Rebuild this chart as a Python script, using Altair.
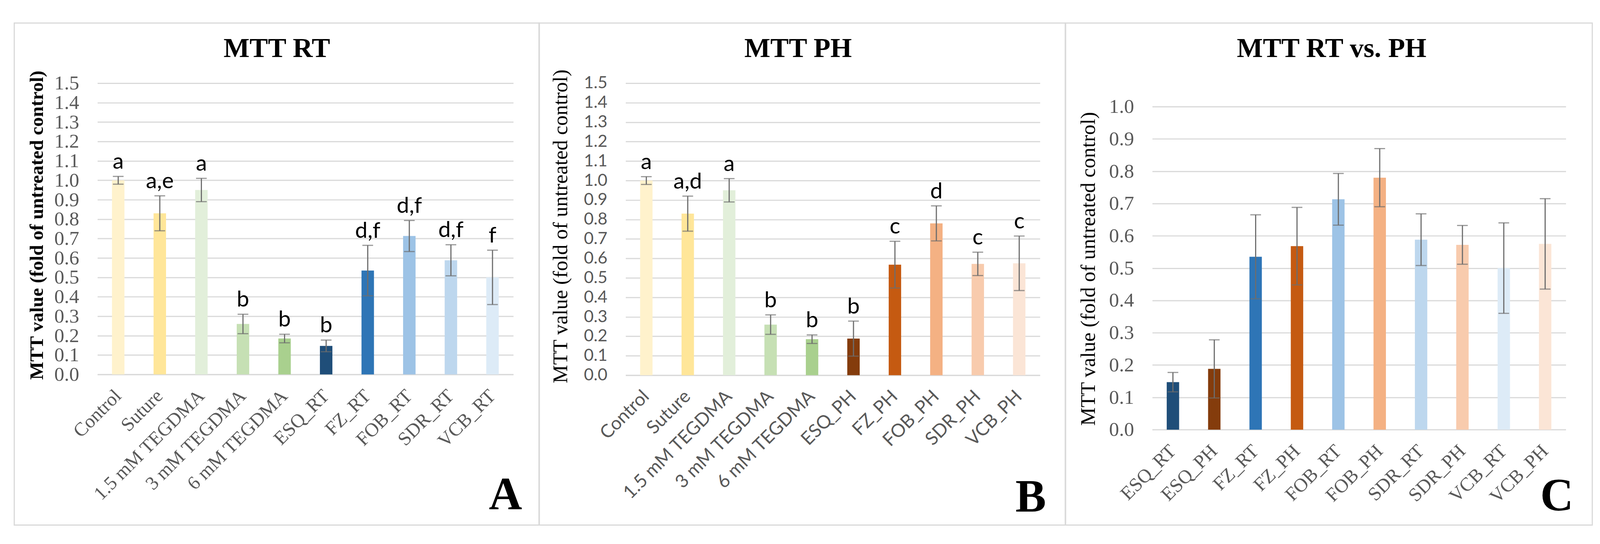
import altair as alt
import pandas as pd

# ---------------- data ----------------
cats_A = ["Control", "Suture", "1.5 mM TEGDMA", "3 mM TEGDMA", "6 mM TEGDMA",
          "ESQ_RT", "FZ_RT", "FOB_RT", "SDR_RT", "VCB_RT"]
vals_A = [1.00, 0.83, 0.95, 0.26, 0.185, 0.147, 0.535, 0.713, 0.588, 0.50]
errs_A = [0.02, 0.09, 0.06, 0.05, 0.022, 0.03, 0.13, 0.08, 0.08, 0.14]
lets_A = ["a", "a,e", "a", "b", "b", "b", "d,f", "d,f", "d,f", "f"]
cols_A = ["#FFF2CC", "#FFE699", "#E2EFDA", "#C6E0B4", "#A9D08E",
          "#1F4E79", "#2E75B6", "#9DC3E6", "#BDD7EE", "#DDEBF7"]

cats_B = ["Control", "Suture", "1.5 mM TEGDMA", "3 mM TEGDMA", "6 mM TEGDMA",
          "ESQ_PH", "FZ_PH", "FOB_PH", "SDR_PH", "VCB_PH"]
vals_B = [1.00, 0.83, 0.95, 0.26, 0.185, 0.188, 0.568, 0.78, 0.572, 0.575]
errs_B = [0.02, 0.09, 0.06, 0.05, 0.022, 0.09, 0.12, 0.09, 0.06, 0.14]
lets_B = ["a", "a,d", "a", "b", "b", "b", "c", "d", "c", "c"]
cols_B = ["#FFF2CC", "#FFE699", "#E2EFDA", "#C6E0B4", "#A9D08E",
          "#843C0C", "#C55A11", "#F4B183", "#F8CBAD", "#FBE5D6"]

cats_C = ["ESQ_RT", "ESQ_PH", "FZ_RT", "FZ_PH", "FOB_RT", "FOB_PH",
          "SDR_RT", "SDR_PH", "VCB_RT", "VCB_PH"]
vals_C = [0.147, 0.188, 0.535, 0.568, 0.713, 0.78, 0.588, 0.572, 0.50, 0.575]
errs_C = [0.03, 0.09, 0.13, 0.12, 0.08, 0.09, 0.08, 0.06, 0.14, 0.14]
cols_C = ["#1F4E79", "#843C0C", "#2E75B6", "#C55A11", "#9DC3E6", "#F4B183",
          "#BDD7EE", "#F8CBAD", "#DDEBF7", "#FBE5D6"]

titles = ["MTT RT", "MTT PH", "MTT RT vs. PH"]
panel_tags = ["A", "B", "C"]
y_title = "MTT value (fold of untreated control)"
ticks_15 = [round(i * 0.1, 1) for i in range(16)]
ticks_10 = [round(i * 0.1, 1) for i in range(11)]

SERIF = "Liberation Serif"
SANS = "Lato"
GRID = "#D9D9D9"
LABEL = "#595959"
ERR = "#6D6D6D"


def panel(cats, vals, errs, cols, lets, title, tag, *, width, height, ydomain,
          yticks, tick_font, tick_size, xlab_font, xlab_size, ytitle_weight,
          ytitle_size, ytitle_x, ytitle_y, box, title_x, tag_x, tag_y):
    df = pd.DataFrame({
        "cat": cats,
        "val": vals,
        "lo": [v - e for v, e in zip(vals, errs)],
        "hi": [v + e for v, e in zip(vals, errs)],
        "col": cols,
    })
    if lets is not None:
        df["let"] = lets

    x = alt.X("cat:N", sort=cats, title=None,
              scale=alt.Scale(paddingInner=0.7, paddingOuter=0.35),
              axis=alt.Axis(labelAngle=-45, labelAlign="right", labelBaseline="middle",
                            labelFont=xlab_font, labelFontSize=xlab_size,
                            labelColor=LABEL, labelPadding=48, ticks=False,
                            labelOverlap=False,
                            domainColor=GRID, domainWidth=3, labelLimit=0))
    y_axis = alt.Axis(values=yticks, format=".1f", grid=True, gridColor=GRID,
                      gridWidth=3, domain=False, ticks=False, labelOverlap=False,
                      labelFont=tick_font, labelFontSize=tick_size,
                      labelColor=LABEL, labelPadding=48,
                      title=y_title, titleFont=SERIF, titleFontSize=ytitle_size,
                      titleFontWeight=ytitle_weight, titleColor="black",
                      titleAngle=-90, titleAlign="center", titleBaseline="middle",
                      titleX=ytitle_x, titleY=ytitle_y)
    y = alt.Y("val:Q", axis=y_axis,
              scale=alt.Scale(domain=ydomain, nice=False, zero=True))

    base = alt.Chart(df)
    bars = base.mark_bar().encode(
        x=x, y=y,
        color=alt.Color("col:N", scale=None, legend=None),
    )
    rule = base.mark_rule(color=ERR, strokeWidth=3).encode(
        x=alt.X("cat:N", sort=cats), y="lo:Q", y2="hi:Q")
    tick_hi = base.mark_tick(color=ERR, thickness=3, size=28).encode(
        x=alt.X("cat:N", sort=cats), y="hi:Q")
    tick_lo = base.mark_tick(color=ERR, thickness=3, size=28).encode(
        x=alt.X("cat:N", sort=cats), y="lo:Q")
    layers = [bars, rule, tick_hi, tick_lo]
    if lets is not None:
        txt = base.mark_text(font=SANS, fontSize=58, color="black",
                             baseline="alphabetic", dy=-20).encode(
            x=alt.X("cat:N", sort=cats), y="hi:Q", text="let:N")
        layers.append(txt)

    border = alt.Chart(pd.DataFrame({"k": [1]})).mark_rect(
        fill=None, stroke=GRID, strokeWidth=3).encode(
        x=alt.value(box[0]), x2=alt.value(box[1]),
        y=alt.value(box[2]), y2=alt.value(box[3]))
    ttl = alt.Chart(pd.DataFrame({"t": [title]})).mark_text(
        font=SERIF, fontSize=72, fontWeight="bold", color="black",
        align="center", baseline="alphabetic").encode(
        x=alt.value(title_x), y=alt.value(-68), text="t:N")
    tg = alt.Chart(pd.DataFrame({"t": [tag]})).mark_text(
        font=SERIF, fontSize=120, fontWeight="bold", color="black",
        align="right", baseline="alphabetic").encode(
        x=alt.value(tag_x), y=alt.value(tag_y), text="t:N")

    return alt.layer(border, *layers, ttl, tg).properties(width=width, height=height)


pA = panel(cats_A, vals_A, errs_A, cols_A, lets_A, titles[0], panel_tags[0],
           width=1085, height=760, ydomain=[0, 1.5], yticks=ticks_15,
           tick_font=SERIF, tick_size=52, xlab_font=SERIF, xlab_size=50,
           ytitle_weight="bold", ytitle_size=50, ytitle_x=-158, ytitle_y=370,
           box=(-217, 1153, -157, 1153), title_x=468, tag_x=1108, tag_y=1112)
pB = panel(cats_B, vals_B, errs_B, cols_B, lets_B, titles[1], panel_tags[1],
           width=1081, height=762, ydomain=[0, 1.5], yticks=ticks_15,
           tick_font=SANS, tick_size=44, xlab_font=SANS, xlab_size=48,
           ytitle_weight="normal", ytitle_size=54, ytitle_x=-169, ytitle_y=373,
           box=(-226, 1147, -157, 1153), title_x=450, tag_x=1097, tag_y=1118)
pC = panel(cats_C, vals_C, errs_C, cols_C, None, titles[2], panel_tags[2],
           width=1079, height=904, ydomain=[0, 904 / 843], yticks=ticks_10,
           tick_font=SERIF, tick_size=52, xlab_font=SERIF, xlab_size=50,
           ytitle_weight="normal", ytitle_size=54, ytitle_x=-166, ytitle_y=484,
           box=(-226, 1148, -157, 1153), title_x=468, tag_x=1099, tag_y=1115)

chart = alt.hconcat(pA, pB, pC, spacing=293, bounds="flush").properties(
    padding={"left": 27, "top": 37, "right": 10, "bottom": 10},
    background="white",
).configure_view(stroke=None)

chart.save("out.html", embed_options={"renderer": "svg", "actions": False})
